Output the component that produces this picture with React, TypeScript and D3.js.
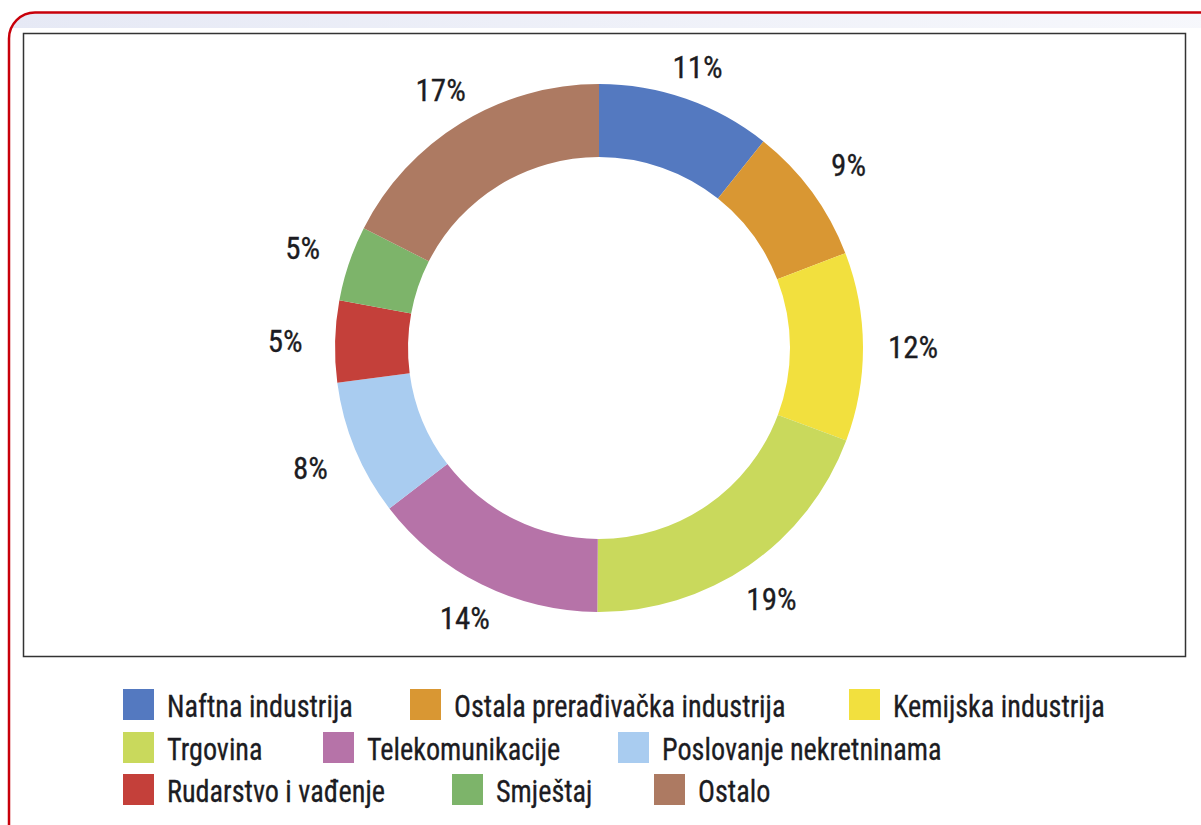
import React from "react";
import * as d3 from "d3";

const categories = [
    "Naftna industrija",
    "Ostala prerađivačka industrija",
    "Kemijska industrija",
    "Trgovina",
    "Telekomunikacije",
    "Poslovanje nekretninama",
    "Rudarstvo i vađenje",
    "Smještaj",
    "Ostalo",
];
// shares (printed labels are rounded)
const shares = [10.7, 8.45, 11.55, 19.4, 14.5, 8.3, 5.0, 4.6, 17.5];
const labels = ["11%", "9%", "12%", "19%", "14%", "8%", "5%", "5%", "17%"];
const colors = [
    "#5479c0",
    "#d99733",
    "#f2e03e",
    "#c9d95c",
    "#b673a8",
    "#a9ccf0",
    "#c4403a",
    "#7db46a",
    "#ad7a62",
];

const W = 1201;
const H = 825;
const cx = 599;
const cy = 348;
const outerR = 264;
const innerR = 191;
const font = "'Liberation Sans Narrow', 'Arial Narrow', 'Roboto Condensed', 'Liberation Sans', sans-serif";

const pie = d3
    .pie<number>()
    .sort(null)
    .value((d) => d);
const arc = d3.arc<d3.PieArcDatum<number>>().innerRadius(innerR).outerRadius(outerR);

// legend flows in rows of three
const legendX = [123, 410, 849, 123, 323, 618, 123, 452, 654];
const legendY = [689, 732, 774];

function labelPos(a: d3.PieArcDatum<number>) {
    const ang = (a.startAngle + a.endAngle) / 2;
    const r = 291 + 23 * Math.abs(Math.sin(ang));
    return [r * Math.sin(ang), -r * Math.cos(ang)];
}

export default function App() {
    const arcs = pie(shares);
    return (
        <svg
            width={W}
            height={H}
            style={{ position: "absolute", left: 0, top: 0, background: "#fff" }}
        >
            <defs>
                <linearGradient id="band" x1="0" x2="1" y1="0" y2="0">
                    <stop offset="0" stopColor="#e6e9f5" />
                    <stop offset="1" stopColor="#f7f8fc" />
                </linearGradient>
                <clipPath id="frame">
                    <rect x={9} y={13} width={1220} height={840} rx={26} />
                </clipPath>
            </defs>
            <rect x={9} y={13} width={1220} height={15} fill="url(#band)" clipPath="url(#frame)" />
            <rect
                x={9}
                y={12.5}
                width={1220}
                height={840}
                rx={26}
                fill="none"
                stroke="#c8000a"
                strokeWidth={2.5}
            />
            <rect x={23.5} y={33.5} width={1162} height={623} fill="#fff" stroke="#333" strokeWidth={1.5} />

            <g transform={`translate(${cx},${cy})`}>
                {arcs.map((a, i) => (
                    <path key={i} d={arc(a) || ""} fill={colors[i]} />
                ))}
                {arcs.map((a, i) => {
                    const [x, y] = labelPos(a);
                    return (
                        <text
                            key={"l" + i}
                            transform={`translate(${x},${y + 1})`}
                            textAnchor="middle"
                            dominantBaseline="central"
                            fontFamily={font}
                            fontSize={31}
                            fill="#1c1c22"
                            stroke="#1c1c22"
                            strokeWidth={0.3}
                        >
                            {labels[i]}
                        </text>
                    );
                })}
            </g>

            <g>
                {categories.map((c, i) => (
                    <g key={c} transform={`translate(${legendX[i]},${legendY[Math.floor(i / 3)]})`}>
                        <rect width={31} height={31} fill={colors[i]} />
                        <text
                            transform="translate(44,18) scale(0.91,1)"
                            dominantBaseline="central"
                            fontFamily={font}
                            fontSize={31}
                            fill="#1c1c22"
                            stroke="#1c1c22"
                            strokeWidth={0.3}
                        >
                            {c}
                        </text>
                    </g>
                ))}
            </g>
        </svg>
    );
}
